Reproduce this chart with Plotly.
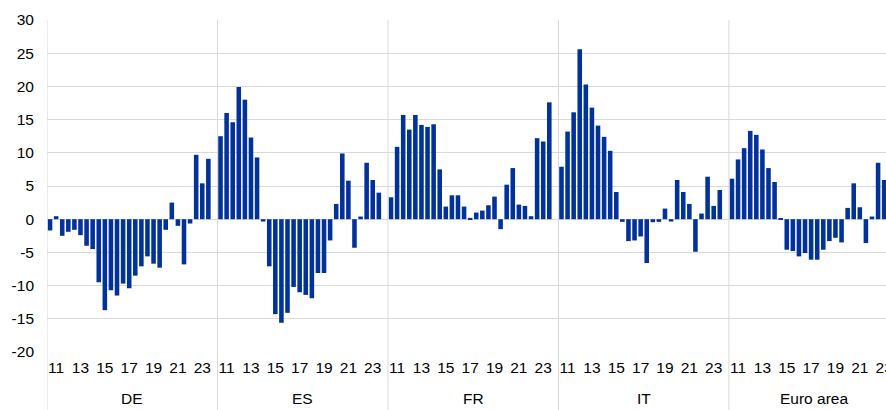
import plotly.graph_objects as go

groups = ["DE", "ES", "FR", "IT", "Euro area"]
slots_per_group = 28
year_labels = ["11", "13", "15", "17", "19", "21", "23"]
y_ticks = [-20, -15, -10, -5, 0, 5, 10, 15, 20, 25, 30]

de = [-1.7, 0.45, -2.5, -1.9, -1.6, -2.4, -4.0, -4.5, -9.5, -13.7, -10.7, -11.5, -9.7,
      -10.4, -8.5, -7.1, -5.6, -6.7, -7.3, -1.6, 2.5, -1.0, -6.8, -0.65, 9.7, 5.4, 9.1]
es = [12.5, 16.0, 14.6, 19.9, 18.0, 12.3, 9.3, -0.35, -7.1, -14.3, -15.6, -14.1, -10.2,
      -11.0, -11.4, -11.9, -8.1, -8.1, -3.2, 2.3, 9.9, 5.8, -4.3, 0.4, 8.5, 5.9, 4.0]
fr = [3.3, 10.9, 15.7, 13.5, 15.7, 14.2, 13.9, 14.3, 7.5, 1.9, 3.6, 3.6, 1.9,
      0.2, 1.0, 1.3, 2.1, 3.4, -1.5, 5.2, 7.7, 2.2, 2.0, 0.45, 12.2, 11.7, 17.6]
it = [7.9, 13.2, 16.1, 25.6, 20.3, 16.8, 14.1, 12.4, 10.3, 4.1, -0.4, -3.3, -3.2,
      -2.6, -6.6, -0.45, -0.4, 1.6, -0.35, 5.9, 4.1, 2.3, -4.9, 0.85, 6.4, 2.0, 4.4]
ea = [6.1, 9.0, 10.7, 13.3, 12.7, 10.5, 7.7, 5.6, 0.1, -4.6, -4.8, -5.6, -5.1,
      -6.1, -6.1, -4.6, -3.3, -2.8, -3.5, 1.7, 5.4, 1.8, -3.6, 0.4, 8.5, 5.9]

series = [de, es, fr, it, ea]

xs, ys = [], []
for g, vals in enumerate(series):
    for i, v in enumerate(vals):
        xs.append(g * slots_per_group + i)
        ys.append(v)

tickvals, ticktext = [], []
for g in range(len(groups)):
    for k, lab in enumerate(year_labels):
        tickvals.append(g * slots_per_group + 1 + 4 * k)
        ticktext.append(lab)

FONT = "Liberation Sans, Arial, sans-serif"
GRID = "#d9d9d9"

fig = go.Figure(go.Bar(x=xs, y=ys, width=0.75, marker=dict(color="#003299", line=dict(width=0)),
                       showlegend=False, cliponaxis=True, hoverinfo="skip"))

plot_h = 410 - 20 - 58
shapes = []
for g in range(len(groups)):
    shapes.append(dict(type="line", xref="x", yref="paper",
                       x0=g * slots_per_group - 0.5, x1=g * slots_per_group - 0.5,
                       y0=-58 / plot_h, y1=1, line=dict(color=GRID, width=1)))
annotations = []
for g, name in enumerate(groups):
    annotations.append(dict(x=g * slots_per_group + (slots_per_group - 1) / 2, y=-(398 - 352) / plot_h,
                            xref="x", yref="paper", text=name, showarrow=False,
                            yanchor="middle", xanchor="center",
                            font=dict(family=FONT, size=15.5, color="#000000")))

fig.update_layout(
    width=886, height=410,
    margin=dict(l=47, r=0, t=20, b=58, autoexpand=False),
    paper_bgcolor="white", plot_bgcolor="white",
    bargap=0.25,
    shapes=shapes, annotations=annotations,
    font=dict(family=FONT, size=15.5, color="#000000"),
)
fig.update_xaxes(range=[-0.5, 137.3], tickmode="array", tickvals=tickvals, ticktext=ticktext,
                 showgrid=False, zeroline=False, showline=False, ticks="", tickangle=0,
                 ticklabelstandoff=4, automargin=False, ticklabeloverflow="allow")
fig.update_yaxes(range=[-20, 30], tickmode="array", tickvals=y_ticks,
                 ticktext=[str(v) for v in y_ticks],
                 showgrid=True, gridcolor=GRID, gridwidth=1,
                 zeroline=False, showline=False, ticks="", ticklabelstandoff=12, automargin=False)

fig.write_html("out.html", config={"displayModeBar": False},
               post_script="document.body.style.margin='0';document.body.style.overflow='hidden';")
